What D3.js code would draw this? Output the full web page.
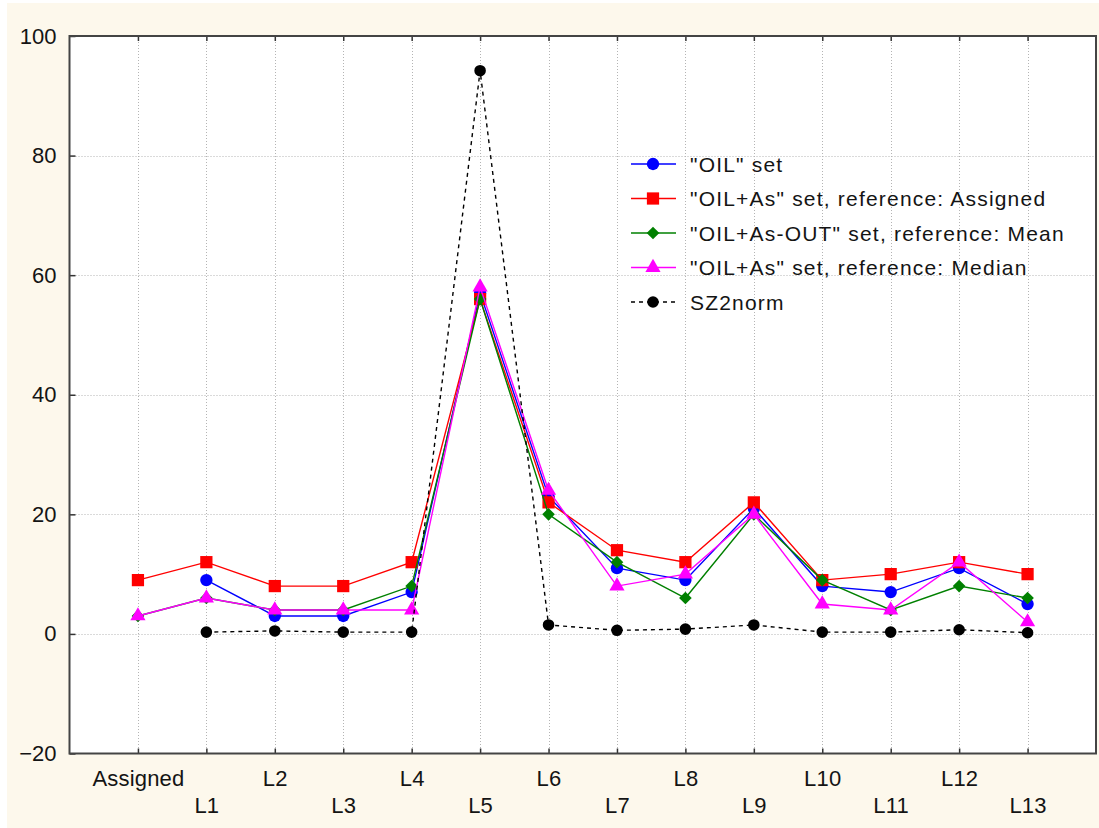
<!DOCTYPE html>
<html>
<head>
<meta charset="utf-8">
<script src="https://cdn.jsdelivr.net/npm/d3@7"></script>
<style>
  body { margin: 0; background: #ffffff; }
  svg { display: block; }
  .tick text { font-family: "Liberation Sans", Arial, sans-serif; fill: #141414; }
</style>
</head>
<body>
<div id="chart"></div>
<script>
// categories on the x axis
var labs = ["Assigned", "L1", "L2", "L3", "L4", "L5", "L6", "L7", "L8", "L9", "L10", "L11", "L12", "L13"];
var yTicks = [-20, 0, 20, 40, 60, 80, 100];

// series values (null = no point)
var oilSet      = [null, 9, 3, 3, 7, 57, 23, 11, 9, 21, 8, 7, 11, 5];
var oilAsAssig  = [9, 12, 8, 8, 12, 56, 22, 14, 12, 22, 9, 10, 12, 10];
var oilAsOutMean = [3, 6, 4, 4, 8, 56, 20, 12, 6, 20, 9, 4, 8, 6];
var oilAsMedian = [3, 6, 4, 4, 4, 58, 24, 8, 10, 20, 5, 4, 12, 2];
var sz2norm     = [null, 0.3, 0.5, 0.3, 0.3, 94.2, 1.5, 0.6, 0.8, 1.5, 0.3, 0.3, 0.7, 0.2];

var seriesNames = ['"OIL" set', '"OIL+As" set, reference: Assigned', '"OIL+As-OUT" set, reference: Mean',
                   '"OIL+As" set, reference: Median', 'SZ2norm'];

var W = 1099, H = 828;
var pLeft = 69.5, pRight = 1096, pTop = 36, pBottom = 753.5;

var series = [
  { name: seriesNames[0], vals: oilSet, color: "#0000ff", shape: "circle" },
  { name: seriesNames[1], vals: oilAsAssig, color: "#ff0000", shape: "square" },
  { name: seriesNames[2], vals: oilAsOutMean, color: "#008000", shape: "diamond" },
  { name: seriesNames[3], vals: oilAsMedian, color: "#ff00ff", shape: "triangle" },
  { name: seriesNames[4], vals: sz2norm, color: "#000000", shape: "dot", dash: "4,4" }
];

var svg = d3.select("#chart").append("svg")
    .attr("width", W)
    .attr("height", H);

// cream figure background
svg.append("rect").attr("x", 7).attr("y", 3).attr("width", W - 7).attr("height", H - 3).attr("fill", "#fdf8ec");
svg.append("rect").attr("x", pLeft).attr("y", pTop).attr("width", pRight - pLeft).attr("height", pBottom - pTop).attr("fill", "#ffffff");

var x = d3.scaleLinear().domain([-1, labs.length]).range([pLeft, pRight]);
var y = d3.scaleLinear().domain([-20, 100]).range([pBottom, pTop]);

// grid
var grid = svg.append("g").attr("stroke", "#b4b4b4").attr("stroke-dasharray", "1,2").attr("stroke-width", 1);
grid.selectAll(".vg").data(d3.range(labs.length)).enter().append("line")
    .attr("x1", function (d) { return Math.round(x(d)) + 0.5; })
    .attr("x2", function (d) { return Math.round(x(d)) + 0.5; })
    .attr("y1", pTop).attr("y2", pBottom);
grid.selectAll(".hg").data(yTicks.slice(1, -1)).enter().append("line")
    .attr("y1", function (d) { return Math.round(y(d)) + 0.5; })
    .attr("y2", function (d) { return Math.round(y(d)) + 0.5; })
    .attr("x1", pLeft).attr("x2", pRight);

// axes
var xAxis = d3.axisBottom(x)
    .tickValues(d3.range(labs.length))
    .tickFormat(function (d) { return labs[d]; })
    .tickSize(-5)
    .tickSizeOuter(0);

var xg = svg.append("g")
    .attr("transform", "translate(0," + pBottom + ")")
    .call(xAxis);
xg.select(".domain").remove();
xg.selectAll("line").attr("stroke", "#333").attr("stroke-width", 1.5);
xg.selectAll("text")
    .style("font-size", "22px")
    .attr("fill", "#141414")
    .attr("y", function (d) { return d % 2 === 0 ? 17 : 44; })
    .attr("dy", "0.71em")
    .attr("letter-spacing", "0.2px");

var topAxis = d3.axisTop(x)
    .tickValues(d3.range(labs.length))
    .tickFormat("")
    .tickSize(-5)
    .tickSizeOuter(0);
var tg = svg.append("g").attr("transform", "translate(0," + pTop + ")").call(topAxis);
tg.select(".domain").remove();
tg.selectAll("line").attr("stroke", "#333").attr("stroke-width", 1.5);

var yAxis = d3.axisLeft(y)
    .tickValues(yTicks)
    .tickSize(-6)
    .tickSizeOuter(0)
    .tickPadding(13);
var yg = svg.append("g").attr("transform", "translate(" + pLeft + ",0)").call(yAxis);
yg.select(".domain").remove();
yg.selectAll("line").attr("stroke", "#333").attr("stroke-width", 1.5);
yg.selectAll("text").style("font-size", "22px").attr("fill", "#141414");

// frame
svg.append("rect")
    .attr("x", pLeft).attr("y", pTop)
    .attr("width", pRight - pLeft).attr("height", pBottom - pTop)
    .attr("fill", "none").attr("stroke", "#444").attr("stroke-width", 2);

// markers
function markerPath(shape) {
  switch (shape) {
    case "circle": return d3.symbol().type(d3.symbolCircle).size(120)();
    case "square": return d3.symbol().type(d3.symbolSquare).size(150)();
    case "diamond": return d3.symbol().type(d3.symbolSquare).size(80)();
    case "triangle": return d3.symbol().type(d3.symbolTriangle).size(100)();
    case "dot": return d3.symbol().type(d3.symbolCircle).size(105)();
  }
}

var line = d3.line()
    .defined(function (d) { return d != null; })
    .x(function (d, i) { return x(i); })
    .y(function (d) { return y(d); });

var plot = svg.append("g");
series.forEach(function (s) {
  plot.append("path")
      .datum(s.vals)
      .attr("fill", "none")
      .attr("stroke", s.color)
      .attr("stroke-width", 1.4)
      .attr("stroke-dasharray", s.dash || null)
      .attr("d", line);
  plot.selectAll(null)
      .data(s.vals.map(function (v, i) { return { v: v, i: i }; }).filter(function (d) { return d.v != null; }))
      .enter().append("path")
      .attr("d", markerPath(s.shape))
      .attr("fill", s.color)
      .attr("transform", function (d) {
        return "translate(" + x(d.i) + "," + y(d.v) + ")" + (s.shape === "diamond" ? " rotate(45)" : "");
      });
});

// legend
var legend = svg.append("g");
var rowY = [164, 198.5, 233, 267.5, 302];
series.forEach(function (s, k) {
  var g = legend.append("g").attr("transform", "translate(0," + rowY[k] + ")");
  g.append("line")
      .attr("x1", 631).attr("x2", 676).attr("y1", 0).attr("y2", 0)
      .attr("stroke", s.color).attr("stroke-width", 1.4)
      .attr("stroke-dasharray", s.dash || null);
  g.append("path")
      .attr("d", markerPath(s.shape))
      .attr("fill", s.color)
      .attr("transform", "translate(653,0)" + (s.shape === "diamond" ? " rotate(45)" : ""));
  g.append("text")
      .attr("x", 690).attr("y", 0).attr("dy", "0.36em")
      .style("font-family", '"Liberation Sans", Arial, sans-serif')
      .style("font-size", "21px")
      .attr("letter-spacing", "1.2px")
      .attr("fill", "#141414")
      .text(s.name);
});
</script>
</body>
</html>
